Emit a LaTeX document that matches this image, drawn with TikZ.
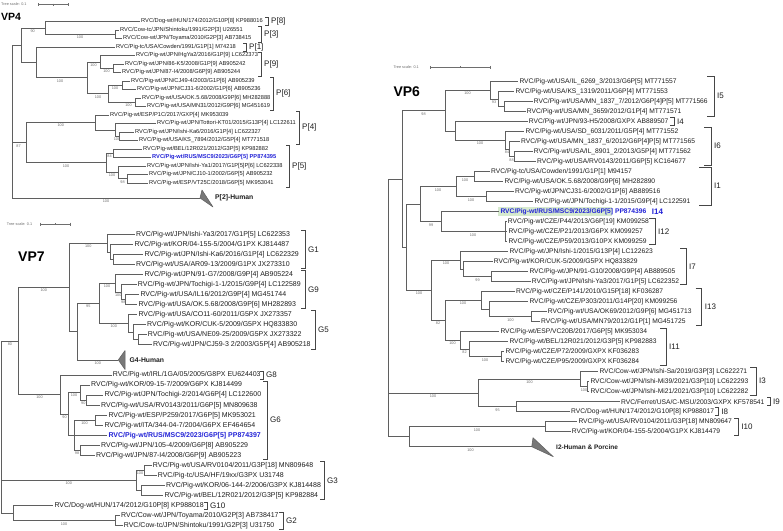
\documentclass[tikz,border=0pt]{standalone}
\usepackage{fontspec}
\setmainfont{Liberation Sans}
\definecolor{treeg}{RGB}{95,95,95}
\definecolor{brkg}{RGB}{70,70,70}
\definecolor{txt}{RGB}{30,30,30}
\definecolor{bsg}{RGB}{110,110,110}
\definecolor{msc}{RGB}{35,35,215}
\definecolor{hlg}{RGB}{214,234,206}
\definecolor{trig}{RGB}{120,120,120}
\newcounter{bsc}
\newcommand\bsv[3]{\stepcounter{bsc}\node[bs] (bs\arabic{bsc}) at (#1,#2) {#3};}
\newcommand\LF[5]{\node[#1] (#2) at (#3,#4) {#5};}
\newcommand\tedge[2]{\draw[tree] (#1) |- (#2);}
\newcommand\tleaf[2]{\draw[tree] (#1) |- (#2.west);}
\newcommand\brak[6]{\draw[brk] (#2-#5,#3) -- (#2,#3) -- (#2,#4) -- (#2-#5,#4); \node[brl] (#1) at (#2+3,{(#3+#4)/2}) {#6};}
\newcommand\sbar[5]{%
 \coordinate (#1a) at (#2,#4); \coordinate (#1b) at (#3,#4);
 \coordinate (#1m) at ({(#2+#3)/2},#4);
 \draw[sb] (#1a) -- (#1b);
 \draw[sb] ([yshift=1.5pt]#1a) -- ([yshift=-1.5pt]#1a);
 \draw[sb] ([yshift=1.5pt]#1b) -- ([yshift=-1.5pt]#1b);
 \draw[sb] ([yshift=1pt]#1m) -- ([yshift=-1pt]#1m);
 \node[scl] (#1t) at (#5,#4) {Tree scale: 0.1};}
\begin{document}
\begin{tikzpicture}[x=1pt,y=-1pt,
 tree/.style={draw=treeg,line width=0.75pt},
 L4/.style={anchor=west,inner sep=0pt,inner xsep=1pt,text=txt,font=\fontsize{5.7}{6.5}\selectfont},
 hl4/.style={L4,text=msc,font=\fontsize{5.7}{6.5}\selectfont\bfseries},
 L7/.style={anchor=west,inner sep=0pt,inner xsep=1pt,text=txt,font=\fontsize{7}{8}\selectfont},
 hl7/.style={L7,text=msc,font=\fontsize{7}{8}\selectfont\bfseries},
 L6/.style={anchor=west,inner sep=0pt,inner xsep=1pt,text=txt,font=\fontsize{6.7}{7.5}\selectfont},
 hl6/.style={L6,text=msc,font=\fontsize{6.7}{7.5}\selectfont\bfseries},
 bs/.style={inner sep=0pt,text=bsg,font=\fontsize{3.8}{4}\selectfont},
 brk/.style={draw=brkg,line width=0.8pt},
 brl/.style={anchor=west,inner sep=0pt,text=txt,font=\fontsize{8}{9}\selectfont},
 ptitle/.style={anchor=west,inner sep=0pt,text=black},
 tri/.style={fill=trig,draw=treeg,line width=0.5pt,line join=round},
 clab/.style={anchor=west,inner sep=0pt,text=txt,font=\fontsize{6.8}{8}\selectfont\bfseries},
 scl/.style={anchor=west,inner sep=0pt,text=bsg,font=\fontsize{3.8}{4}\selectfont},
 sb/.style={draw=bsg,line width=0.5pt}]
\useasboundingbox[fill=white] (0,0) rectangle (783,530);

%%%%%%%%%%%%%%%%%%%% VP4 %%%%%%%%%%%%%%%%%%%%
\node[ptitle,font=\fontsize{10.5}{12}\selectfont\bfseries] (vp4) at (1,17) {VP4};
\sbar{s4}{38}{68}{4.5}{1}
\LF{L4}{a1}{140}{21.5}{RVC/Dog-wt/HUN/174/2012/G10P[8] KP988016}
\LF{L4}{a2}{119}{30}{RVC/Cow-tc/JPN/Shintoku/1991/G2P[3] U26551}
\LF{L4}{a3}{122}{38.5}{RVC/Cow-wt/JPN/Toyama/2010/G2P[3] AB738415}
\LF{L4}{a4}{115}{47}{RVC/Pig-tc/USA/Cowden/1991/G1P[1] M74218}
\LF{L4}{a5}{135}{55.5}{RVC/Pig-wt/JPN/HgYa2/2016/G1P[9] LC622373}
\LF{L4}{a6}{124}{64}{RVC/Pig-wt/JPN/86-K5/2008/G1P[9] AB905242}
\LF{L4}{a7}{121}{72.5}{RVC/Pig-wt/JPN/87-I4/2008/G6P[9] AB905244}
\LF{L4}{a8}{130}{81}{RVC/Pig-wt/JPN/CJ49-4/2003/G1P[6] AB905239}
\LF{L4}{a9}{136}{89.5}{RVC/Pig-wt/JPN/CJ31-6/2002/G1P[6] AB905236}
\LF{L4}{a10}{141}{98}{RVC/Pig-wt/USA/OK.5.68/2008/G9P[6] MH282888}
\LF{L4}{a11}{146}{106.5}{RVC/Pig-wt/USA/MN31/2012/G9P[6] MG451619}
\LF{L4}{a12}{109}{115}{RVC/Pig-wt/ESP/P1C/2017/GXP[4] MK953039}
\LF{L4}{a13}{156}{123.5}{RVC/Pig-wt/JPN/Tottori-KT01/2015/G13P[4] LC122611}
\LF{L4}{a14}{134}{132}{RVC/Pig-wt/JPN/Ishi-Ka6/2016/G1P[4] LC622327}
\LF{L4}{a15}{138}{140.5}{RVC/Pig-wt/USA/KS\_7894/2012/G5P[4] MT771518}
\LF{L4}{a16}{142}{149}{RVC/Pig-wt/BEL/12R021/2012/G3P[5] KP982882}
\LF{hl4}{a17}{151}{157.5}{RVC/Pig-wt/RUS/MSC9/2023/G6P[5] PP874395}
\LF{L4}{a18}{146}{166}{RVC/Pig-wt/JPN/Ishi-Ya1/2017/G1P[5]P[6] LC622338}
\LF{L4}{a19}{148}{174.5}{RVC/Pig-wt/JPN/CJ10-1/2002/G6P[5] AB905232}
\LF{L4}{a20}{148}{183}{RVC/Pig-wt/ESP/VT25C/2018/G6P[5] MK953041}
\coordinate (r4) at (12.3,45.2);
\coordinate (A4) at (21.7,45.2);
\coordinate (B4) at (45,27.9);
\coordinate (C4) at (115,34.25);
\coordinate (D4) at (36,62.4);
\coordinate (E4) at (87.3,77.8);
\coordinate (F4) at (100,61.9);
\coordinate (G4n) at (113,68.25);
\coordinate (P6n) at (108,93.75);
\coordinate (CJn) at (122,85.25);
\coordinate (USn) at (135,102.25);
\coordinate (H4) at (26,142.6);
\coordinate (P4n) at (95.7,122.4);
\coordinate (P4b) at (115,129.9);
\coordinate (K4) at (119,136.25);
\coordinate (P5n) at (106,162.8);
\coordinate (L4n) at (113,153.25);
\coordinate (M4) at (118,172.4);
\coordinate (N4) at (127,178.75);
\coordinate (t4) at (200,198);
\coordinate (t4b) at (202,190);
\coordinate (t4c) at (213,207);
\tedge{r4}{A4}\tedge{r4}{H4}\tedge{r4}{t4}
\tedge{A4}{B4}\tedge{A4}{D4}
\tleaf{B4}{a1}\tedge{B4}{C4}
\tleaf{C4}{a2}\tleaf{C4}{a3}
\tleaf{D4}{a4}\tedge{D4}{E4}
\tedge{E4}{F4}\tedge{E4}{P6n}
\tleaf{F4}{a5}\tedge{F4}{G4n}
\tleaf{G4n}{a6}\tleaf{G4n}{a7}
\tedge{P6n}{CJn}\tedge{P6n}{USn}
\tleaf{CJn}{a8}\tleaf{CJn}{a9}
\tleaf{USn}{a10}\tleaf{USn}{a11}
\tedge{H4}{P4n}\tedge{H4}{P5n}
\tleaf{P4n}{a12}\tedge{P4n}{P4b}
\tleaf{P4b}{a13}\tedge{P4b}{K4}
\tleaf{K4}{a14}\tleaf{K4}{a15}
\tedge{P5n}{L4n}\tedge{P5n}{M4}
\tleaf{L4n}{a16}\tleaf{L4n}{a17}
\tleaf{M4}{a18}\tedge{M4}{N4}
\tleaf{N4}{a19}\tleaf{N4}{a20}
\draw[tri] (t4) -- (t4b) -- (t4c) -- cycle;
\node[clab] (p2h) at (215,198) {P[2]-Human};
\bsv{32.7}{31}{90}
\bsv{80}{37.5}{100}
\bsv{60}{81}{100}
\bsv{93.5}{65}{100}
\bsv{106.5}{71.3}{100}
\bsv{98}{97}{100}
\bsv{115}{88.3}{100}
\bsv{128.5}{105.3}{100}
\bsv{18.5}{145.7}{87}
\bsv{60.8}{125.5}{100}
\bsv{117}{139.3}{100}
\bsv{66}{166}{100}
\bsv{109.5}{156.3}{84}
\bsv{112}{175.5}{100}
\bsv{122.5}{181.8}{98}
\bsv{106}{201.5}{100}
\brak{p8}{268}{17.5}{25.5}{3}{P[8]}
\brak{p3}{261}{26.5}{42}{3}{P[3]}
\brak{p1}{246}{43}{51}{3}{P[1]}
\brak{p9}{261}{52}{76}{3}{P[9]}
\brak{p6}{273}{77.5}{110}{3}{P[6]}
\brak{p4}{299}{111.5}{144}{3}{P[4]}
\brak{p5}{289}{145}{187}{3}{P[5]}

%%%%%%%%%%%%%%%%%%%% VP7 %%%%%%%%%%%%%%%%%%%%
\node[ptitle,font=\fontsize{14}{16}\selectfont\bfseries] (vp7) at (18,256.7) {VP7};
\sbar{s7}{40}{70}{224}{6.7}
\LF{L7}{b0}{135}{234.3}{RVC/Pig-wt/JPN/Ishi-Ya3/2017/G1P[5] LC622353}
\LF{L7}{b1}{133.3}{244.35}{RVC/Pig-wt/KOR/04-155-5/2004/G1PX KJ814487}
\LF{L7}{b2}{143.3}{254.4}{RVC/Pig-wt/JPN/Ishi-Ka6/2016/G1P[4] LC622329}
\LF{L7}{b3}{135}{264.45}{RVC/Pig-wt/USA/AR09-13/2009/G1PX JX273310}
\LF{L7}{b4}{143.3}{274.5}{RVC/Pig-wt/JPN/91-G7/2008/G9P[4] AB905224}
\LF{L7}{b5}{136.7}{284.55}{RVC/Pig-wt/JPN/Tochigi-1-1/2015/G9P[4] LC122589}
\LF{L7}{b6}{139.3}{294.6}{RVC/Pig-wt/USA/IL16/2012/G9P[4] MG451744}
\LF{L7}{b7}{137.3}{304.65}{RVC/Pig-wt/USA/OK.5.68/2008/G9P[6] MH282893}
\LF{L7}{b8}{137.3}{314.7}{RVC/Pig-wt/USA/CO11-60/2011/G5PX JX273357}
\LF{L7}{b9}{146}{324.75}{RVC/Pig-wt/KOR/CUK-5/2009/G5PX HQ833830}
\LF{L7}{b10}{146.7}{334.8}{RVC/Pig-wt/USA/NE09-25/2009/G5PX JX273322}
\LF{L7}{b11}{152}{344.85}{RVC/Pig-wt/JPN/CJ59-3 2/2003/G5P[4] AB905218}
\LF{L7}{b13}{111.7}{375}{RVC/Pig-wt/IRL/1GA/05/2005/G8PX EU624403}
\LF{L7}{b14}{90}{385}{RVC/Pig-wt/KOR/09-15-7/2009/G6PX KJ814499}
\LF{L7}{b15}{103.3}{395.1}{RVC/Pig-wt/JPN/Tochigi-2/2014/G6P[4] LC122600}
\LF{L7}{b16}{100}{405.2}{RVC/Pig-wt/USA/RV0143/2011/G6P[5] MN809638}
\LF{L7}{b17}{107.3}{415.2}{RVC/Pig-wt/ESP/P259/2017/G6P[5] MK953021}
\LF{L7}{b18}{103.3}{425.3}{RVC/Pig-wt/ITA/344-04-7/2004/G6PX EF464654}
\LF{hl7}{b19}{107.3}{435.3}{RVC/Pig-wt/RUS/MSC9/2023/G6P[5] PP874397}
\LF{L7}{b20}{100}{445.4}{RVC/Pig-wt/JPN/105-4/2009/G6P[8] AB905229}
\LF{L7}{b21}{95}{455.4}{RVC/Pig-wt/JPN/87-I4/2008/G6P[9] AB905223}
\LF{L7}{b22}{151.7}{465.5}{RVC/Pig-wt/USA/RV0104/2011/G3P[18] MN809648}
\LF{L7}{b23}{156.7}{475.5}{RVC/Pig-tc/USA/HF/19xx/G3PX U31748}
\LF{L7}{b24}{165}{485.6}{RVC/Pig-wt/KOR/06-144-2/2006/G3PX KJ814488}
\LF{L7}{b25}{163.3}{495.6}{RVC/Pig-wt/BEL/12R021/2012/G3P[5] KP982884}
\LF{L7}{b26}{53.3}{505.7}{RVC/Dog-wt/HUN/174/2012/G10P[8] KP988018}
\LF{L7}{b27}{120}{515.7}{RVC/Cow-wt/JPN/Toyama/2010/G2P[3] AB738417}
\LF{L7}{b28}{122.7}{525.8}{RVC/Cow-tc/JPN/Shintoku/1991/G2P[3] U31750}
\coordinate (r7) at (1.7,341);
\coordinate (A7) at (18.3,341);
\coordinate (B7) at (69.3,287.4);
\coordinate (G1n) at (107.3,243.1);
\coordinate (G1s) at (110,251.9);
\coordinate (G1ss) at (113,259.4);
\coordinate (C7) at (77.3,331.7);
\coordinate (D7) at (99.3,303.4);
\coordinate (G9n) at (115,283.3);
\coordinate (G9s) at (121.7,292.1);
\coordinate (G9ss) at (125,299.6);
\coordinate (G5n) at (128.3,323.5);
\coordinate (G5s) at (133,332.3);
\coordinate (G5ss) at (138,339.8);
\coordinate (t7) at (118.3,359.9);
\coordinate (t7b) at (125,350.5);
\coordinate (t7c) at (125,369.5);
\coordinate (E7) at (60.7,394.5);
\coordinate (G6n) at (68.3,414);
\coordinate (F7) at (80,392.6);
\coordinate (F7s) at (86.5,400.1);
\coordinate (G7) at (74,435.3);
\coordinate (EI) at (95,420.3);
\coordinate (HL) at (80,450.4);
\coordinate (G3n) at (136,480.6);
\coordinate (G3a) at (144,470.5);
\coordinate (G3b) at (141.7,490.6);
\coordinate (H7) at (13.3,513.2);
\coordinate (G2n) at (115,520.8);
\tedge{r7}{A7}\tedge{r7}{G3n}\tedge{r7}{H7}
\tedge{A7}{B7}\tedge{A7}{E7}
\tedge{B7}{G1n}\tedge{B7}{C7}
\tleaf{G1n}{b0}\tedge{G1n}{G1s}
\tleaf{G1s}{b1}\tedge{G1s}{G1ss}
\tleaf{G1ss}{b2}\tleaf{G1ss}{b3}
\tedge{C7}{D7}\tedge{C7}{t7}
\tedge{D7}{G9n}\tedge{D7}{G5n}
\tleaf{G9n}{b4}\tedge{G9n}{G9s}
\tleaf{G9s}{b5}\tedge{G9s}{G9ss}
\tleaf{G9ss}{b6}\tleaf{G9ss}{b7}
\tleaf{G5n}{b8}\tedge{G5n}{G5s}
\tleaf{G5s}{b9}\tedge{G5s}{G5ss}
\tleaf{G5ss}{b10}\tleaf{G5ss}{b11}
\tleaf{E7}{b13}\tedge{E7}{G6n}
\tedge{G6n}{F7}\tedge{G6n}{G7}
\tleaf{F7}{b14}\tedge{F7}{F7s}
\tleaf{F7s}{b15}\tleaf{F7s}{b16}
\tedge{G7}{EI}\tleaf{G7}{b19}\tedge{G7}{HL}
\tleaf{EI}{b17}\tleaf{EI}{b18}
\tleaf{HL}{b20}\tleaf{HL}{b21}
\tedge{G3n}{G3a}\tedge{G3n}{G3b}
\tleaf{G3a}{b22}\tleaf{G3a}{b23}
\tleaf{G3b}{b24}\tleaf{G3b}{b25}
\tleaf{H7}{b26}\tedge{H7}{G2n}
\tleaf{G2n}{b27}\tleaf{G2n}{b28}
\draw[tri] (t7) -- (t7b) -- (t7c) -- cycle;
\node[clab] (g4h) at (129.5,359.9) {G4-Human};
\bsv{10}{344}{80}
\bsv{43.8}{290.4}{100}
\bsv{88.3}{246.1}{100}
\bsv{88.3}{306.4}{95}
\bsv{107}{286.3}{100}
\bsv{118.3}{295.1}{100}
\bsv{123.3}{302.6}{98}
\bsv{113.8}{326.5}{100}
\bsv{97.8}{362.9}{100}
\bsv{39.5}{397.5}{100}
\bsv{74}{395.6}{100}
\bsv{83.3}{403.1}{90}
\bsv{64.5}{417}{90}
\bsv{84.5}{423.3}{100}
\bsv{77}{453.4}{98}
\bsv{68.8}{483.6}{100}
\bsv{140}{473.5}{100}
\bsv{64}{523.8}{100}
\brak{g1}{305}{230}{268.5}{4}{G1}
\brak{g9}{305}{270.5}{308.5}{4}{G9}
\brak{g5}{315}{310.5}{349}{4}{G5}
\brak{g8}{263}{371}{379}{3}{G8}
\brak{g6}{267}{381}{459}{4}{G6}
\brak{g3}{324}{461.5}{499.5}{4}{G3}
\brak{g10}{207}{502}{509.5}{3}{G10}
\brak{g2}{283}{512}{529}{4}{G2}

%%%%%%%%%%%%%%%%%%%% VP6 %%%%%%%%%%%%%%%%%%%%
\node[ptitle,font=\fontsize{14}{16}\selectfont\bfseries] (vp6) at (393.3,91.5) {VP6};
\sbar{s6}{430}{490}{67.3}{393.3}
\fill[hlg] (498.3,207.4) rectangle (612,216);
\LF{L6}{c0}{518.3}{81.7}{RVC/Pig-wt/USA/IL\_6269\_3/2013/G6P[5] MT771557}
\LF{L6}{c1}{514.3}{91.7}{RVC/Pig-wt/USA/KS\_1319/2011/G6P[4] MT771553}
\LF{L6}{c2}{532.7}{101.7}{RVC/Pig-wt/USA/MN\_1837\_7/2012/G6P[4]P[5] MT771566}
\LF{L6}{c3}{525.7}{111.7}{RVC/Pig-wt/USA/MN\_3659/2012/G1P[4] MT771571}
\LF{L6}{c4}{527.7}{121.7}{RVC/Pig-wt/JPN/93-H5/2008/GXPX AB889507}
\LF{L6}{c5}{524.3}{131.7}{RVC/Pig-wt/USA/SD\_6031/2011/G5P[4] MT771552}
\LF{L6}{c6}{520}{141.7}{RVC/Pig-wt/USA/MN\_1837\_6/2012/G6P[4]P[5] MT771565}
\LF{L6}{c7}{532.7}{151.7}{RVC/Pig-wt/USA/IL\_8901\_2/2013/G5P[4] MT771562}
\LF{L6}{c8}{536}{161.7}{RVC/Pig-wt/USA/RV0143/2011/G6P[5] KC164677}
\LF{L6}{c9}{490}{171.7}{RVC/Pig-tc/USA/Cowden/1991/G1P[1] M94157}
\LF{L6}{c10}{503.3}{181.7}{RVC/Pig-wt/USA/OK.5.68/2008/G9P[6] MH282890}
\LF{L6}{c11}{514}{191.7}{RVC/Pig-wt/JPN/CJ31-6/2002/G1P[6] AB889516}
\LF{L6}{c12}{533.3}{201.7}{RVC/Pig-wt/JPN/Tochigi-1-1/2015/G9P[4] LC122591}
\LF{hl6}{c13}{499.3}{211.7}{RVC/Pig-wt/RUS/MSC9/2023/G6P[5] PP874396}
\LF{L6}{c14}{506.7}{221.7}{RVC/Pig-wt/CZE/P44/2013/G6P[19] KM099258}
\LF{L6}{c15}{507.3}{231.7}{RVC/Pig-wt/CZE/P21/2013/G6PX KM099257}
\LF{L6}{c16}{507.3}{241.7}{RVC/Pig-wt/CZE/P59/2013/G10PX KM099259}
\LF{L6}{c17}{508.3}{251.7}{RVC/Pig-wt/JPN/Ishi-1/2015/G13P[4] LC122623}
\LF{L6}{c18}{492.7}{261.7}{RVC/Pig-wt/KOR/CUK-5/2009/G5PX HQ833829}
\LF{L6}{c19}{528.3}{271.7}{RVC/Pig-wt/JPN/91-G10/2008/G9P[4] AB889505}
\LF{L6}{c20}{530.7}{281.7}{RVC/Pig-wt/JPN/Ishi-Ya3/2017/G1P[5] LC622352}
\LF{L6}{c21}{515}{291.7}{RVC/Pig-wt/CZE/P141/2010/G15P[18] KF036287}
\LF{L6}{c22}{528.3}{301.7}{RVC/Pig-wt/CZE/P303/2011/G14P[20] KM099256}
\LF{L6}{c23}{546.7}{311.7}{RVC/Pig-wt/USA/OK69/2012/G9P[6] MG451713}
\LF{L6}{c24}{540}{321.7}{RVC/Pig-wt/USA/MN79/2012/G1P[1] MG451725}
\LF{L6}{c25}{499.3}{331.7}{RVC/Pig-wt/ESP/VC20B/2017/G6P[5] MK953034}
\LF{L6}{c26}{508.3}{341.7}{RVC/Pig-wt/BEL/12R021/2012/G3P[5] KP982883}
\LF{L6}{c27}{504.3}{351.7}{RVC/Pig-wt/CZE/P72/2009/GXPX KF036283}
\LF{L6}{c28}{504.3}{361.7}{RVC/Pig-wt/CZE/P95/2009/GXPX KF036284}
\LF{L6}{c29}{598.3}{371.7}{RVC/Cow-wt/JPN/Ishi-Sa/2019/G3P[3] LC622271}
\LF{L6}{c30}{589.3}{381.7}{RVC/Cow-wt/JPN/Ishi-Mi39/2021/G3P[10] LC622293}
\LF{L6}{c31}{589.3}{391.7}{RVC/Cow-wt/JPN/Ishi-Mi21/2021/G3P[10] LC622282}
\LF{L6}{c32}{620}{401.7}{RVC/Ferret/USA/C-MSU/2003/GXPX KF578541}
\LF{L6}{c33}{570}{411.7}{RVC/Dog-wt/HUN/174/2012/G10P[8] KP988017}
\LF{L6}{c34}{577.3}{421.7}{RVC/Pig-wt/USA/RV0104/2011/G3P[18] MN809647}
\LF{L6}{c35}{570.7}{431.7}{RVC/Pig-wt/KOR/04-155-5/2004/G1PX KJ814479}
\coordinate (r6) at (388.3,179.05);
\coordinate (V1) at (402,179.05);
\coordinate (G1v) at (445,110.8);
\coordinate (I5n) at (490,90.45);
\coordinate (N1) at (498,99.2);
\coordinate (N2) at (504,106.7);
\coordinate (I46) at (455,131.1);
\coordinate (I6n) at (505,140.45);
\coordinate (S1) at (509,149.2);
\coordinate (S2) at (514,156.7);
\coordinate (V1b) at (406,247.3);
\coordinate (V2) at (420,204.2);
\coordinate (I1n) at (456.7,186.7);
\coordinate (CO) at (474,176.7);
\coordinate (CT) at (486,196.7);
\coordinate (I1412) at (441.7,221.7);
\coordinate (I12n) at (505,231.7);
\coordinate (V3) at (431.7,290.45);
\coordinate (I7n) at (460,260.45);
\coordinate (I7s) at (463.3,269.2);
\coordinate (I7ss) at (491.7,276.7);
\coordinate (I1311) at (445,320.45);
\coordinate (I13n) at (481.7,300.45);
\coordinate (I13s) at (489.3,309.2);
\coordinate (I13ss) at (531.7,316.7);
\coordinate (I11n) at (460,340.45);
\coordinate (I11s) at (469,349.2);
\coordinate (I11ss) at (501.7,356.7);
\coordinate (V4) at (478.3,392.95);
\coordinate (I3n) at (580.7,379.2);
\coordinate (I3s) at (587.7,386.7);
\coordinate (I98) at (516.7,406.7);
\coordinate (V5) at (409.3,436.7);
\coordinate (I10n) at (545,426.7);
\coordinate (t6) at (531.7,446.7);
\coordinate (t6b) at (533,437.7);
\coordinate (t6c) at (553.3,456.7);
\tedge{r6}{V1}\tedge{r6}{V4}\tedge{r6}{V5}
\tedge{V1}{G1v}\tedge{V1}{V1b}
\tedge{G1v}{I5n}\tedge{G1v}{I46}
\tleaf{I5n}{c0}\tedge{I5n}{N1}
\tleaf{N1}{c1}\tedge{N1}{N2}
\tleaf{N2}{c2}\tleaf{N2}{c3}
\tleaf{I46}{c4}\tedge{I46}{I6n}
\tleaf{I6n}{c5}\tedge{I6n}{S1}
\tleaf{S1}{c6}\tedge{S1}{S2}
\tleaf{S2}{c7}\tleaf{S2}{c8}
\tedge{V1b}{V2}\tedge{V1b}{V3}
\tedge{V2}{I1n}\tedge{V2}{I1412}
\tedge{I1n}{CO}\tedge{I1n}{CT}
\tleaf{CO}{c9}\tleaf{CO}{c10}
\tleaf{CT}{c11}\tleaf{CT}{c12}
\tleaf{I1412}{c13}\tedge{I1412}{I12n}
\tleaf{I12n}{c14}\tleaf{I12n}{c15}\tleaf{I12n}{c16}
\tedge{V3}{I7n}\tedge{V3}{I1311}
\tleaf{I7n}{c17}\tedge{I7n}{I7s}
\tleaf{I7s}{c18}\tedge{I7s}{I7ss}
\tleaf{I7ss}{c19}\tleaf{I7ss}{c20}
\tedge{I1311}{I13n}\tedge{I1311}{I11n}
\tleaf{I13n}{c21}\tedge{I13n}{I13s}
\tleaf{I13s}{c22}\tedge{I13s}{I13ss}
\tleaf{I13ss}{c23}\tleaf{I13ss}{c24}
\tleaf{I11n}{c25}\tedge{I11n}{I11s}
\tleaf{I11s}{c26}\tedge{I11s}{I11ss}
\tleaf{I11ss}{c27}\tleaf{I11ss}{c28}
\tedge{V4}{I3n}\tedge{V4}{I98}
\tleaf{I3n}{c29}\tedge{I3n}{I3s}
\tleaf{I3s}{c30}\tleaf{I3s}{c31}
\tleaf{I98}{c32}\tleaf{I98}{c33}
\tedge{V5}{I10n}\tedge{V5}{t6}
\tleaf{I10n}{c34}\tleaf{I10n}{c35}
\draw[tri] (t6) -- (t6b) -- (t6c) -- cycle;
\node[clab,font=\fontsize{6.5}{8}\selectfont\bfseries] (i2h) at (556,446.7) {I2-Human \& Porcine};
\bsv{423.5}{113.8}{98}
\bsv{467.5}{93.5}{100}
\bsv{494}{102.2}{93}
\bsv{480}{143.5}{100}
\bsv{507}{152.2}{84}
\bsv{511.5}{159.7}{88}
\bsv{438}{189.7}{100}
\bsv{465}{179.7}{100}
\bsv{471}{199.7}{100}
\bsv{431}{224.7}{99}
\bsv{473}{234.7}{100}
\bsv{446}{263.5}{100}
\bsv{477.5}{279.7}{99}
\bsv{419}{293.5}{100}
\bsv{463}{303.5}{100}
\bsv{510.5}{319.7}{100}
\bsv{438}{323.5}{82}
\bsv{452.5}{343.5}{100}
\bsv{464.5}{352.2}{82}
\bsv{485}{359.7}{100}
\bsv{433}{396}{100}
\bsv{529.5}{382.2}{100}
\bsv{584}{389.7}{100}
\bsv{497.5}{409.7}{95}
\bsv{477}{429.7}{100}
\bsv{470.5}{449.7}{100}
\brak{i5}{714}{76.5}{116}{7}{I5}
\brak{i4}{674}{117.5}{125.5}{4}{I4}
\brak{i6}{711}{127}{165}{7}{I6}
\brak{i1}{711}{167}{205}{12}{I1}
\brak{i12}{655}{218.5}{244.5}{6}{I12}
\brak{i7}{686}{248}{284.5}{6}{I7}
\brak{i13}{701.7}{288}{325}{6}{I13}
\brak{i11}{666}{328.5}{365}{6}{I11}
\brak{i3}{756}{367}{395}{6}{I3}
\brak{i9}{770}{397.5}{405.5}{3}{I9}
\brak{i8}{718.3}{407.5}{415.5}{3}{I8}
\brak{i10}{738.3}{418}{435.5}{4}{I10}
\node[brl,text=msc,font=\fontsize{8}{9}\selectfont\bfseries] (i14) at (651.7,211.7) {I14};
\end{tikzpicture}
\end{document}
